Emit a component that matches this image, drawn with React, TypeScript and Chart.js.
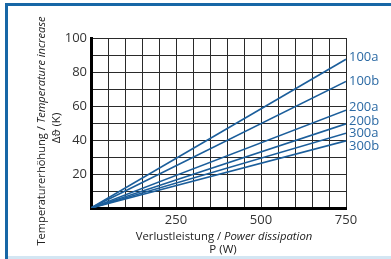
import React, { useEffect, useRef } from "react";
import { Chart, registerables } from "chart.js";

Chart.register(...registerables);

const seriesNames = ["100a", "100b", "200a", "200b", "300a", "300b"];
const powerPoints = [0, 750];
const tempAt750 = [87.5, 74.5, 57.5, 49.5, 44, 39.5];
const xTickLabels = [250, 500, 750];
const yTickLabels = [20, 40, 60, 80, 100];

const LINE = "#1b5e9b";
const LABEL = "#2c6aa4";
const FONT = "'Open Sans', 'DejaVu Sans', sans-serif";

const labelNudge = [-2, 0, -3, -3, 0, 5];

const annotations = {
  id: "annotations",
  afterDraw(chart: any) {
    const { ctx, scales } = chart;
    const xs = scales.x;
    const ys = scales.y;
    ctx.save();
    ctx.fillStyle = LABEL;
    ctx.font = `13px ${FONT}`;
    ctx.textBaseline = "middle";
    ctx.textAlign = "left";
    seriesNames.forEach((n, i) => {
      const x = xs.getPixelForValue(750) + 3;
      const y = ys.getPixelForValue(tempAt750[i]) + labelNudge[i];
      ctx.fillText(n, x, y);
    });

    const drawMixed = (parts: [string, boolean][], cx: number, cy: number, size: number) => {
      let total = 0;
      const widths = parts.map(([t, it]) => {
        ctx.font = `${it ? "italic " : ""}${size}px ${FONT}`;
        const w = ctx.measureText(t).width;
        total += w;
        return w;
      });
      let x = cx - total / 2;
      parts.forEach(([t, it], i) => {
        ctx.font = `${it ? "italic " : ""}${size}px ${FONT}`;
        ctx.fillText(t, x, cy);
        x += widths[i];
      });
    };

    ctx.fillStyle = "#222";
    ctx.textAlign = "left";
    ctx.textBaseline = "middle";
    drawMixed([["Verlustleistung / ", false], ["Power dissipation", true]], 224, 237, 11.3);
    drawMixed([["P (W)", false]], 223, 250, 11.5);
    ctx.save();
    ctx.translate(42, 131);
    ctx.rotate(-Math.PI / 2);
    drawMixed([["Temperaturerhöhung / ", false], ["Temperature increase", true]], 0, 0, 11.1);
    ctx.restore();
    ctx.save();
    ctx.translate(57, 128);
    ctx.rotate(-Math.PI / 2);
    drawMixed([["Δϑ (K)", false]], 0, 0, 11.5);
    ctx.restore();
    ctx.restore();
  },
};

export default function App() {
  const ref = useRef<HTMLCanvasElement>(null);
  useEffect(() => {
    const canvas = ref.current!;
    const chart = new Chart(canvas, {
      type: "line",
      data: {
        datasets: seriesNames.map((name, i) => ({
          label: name,
          data: powerPoints.map((p) => ({ x: p, y: (tempAt750[i] * p) / 750 })),
          borderColor: LINE,
          borderWidth: 1.6,
          pointRadius: 0,
          fill: false,
        })),
      },
      options: {
        animation: false,
        responsive: false,
        events: [],
        layout: { padding: { left: 0, right: 45, top: 38, bottom: 0 } },
        plugins: { legend: { display: false }, tooltip: { enabled: false } },
        scales: {
          x: {
            type: "linear",
            min: 0,
            max: 750,
            afterFit: (s: any) => {
              s.height = 51;
            },
            grid: { color: "#2a2a2a", lineWidth: 1, drawTicks: false },
            border: { color: "#000", width: 3 },
            ticks: {
              stepSize: 50,
              autoSkip: false,
              maxRotation: 0,
              padding: 4,
              color: "#333",
              font: { family: FONT, size: 13 },
              callback: (v: any) => (xTickLabels.includes(v) ? String(v) : ""),
            },
          },
          y: {
            min: 0,
            max: 100,
            afterFit: (s: any) => {
              s.width = 91;
            },
            grid: { color: "#2a2a2a", lineWidth: 1, drawTicks: false },
            border: { color: "#000", width: 3 },
            ticks: {
              stepSize: 10,
              autoSkip: false,
              padding: 4,
              color: "#333",
              font: { family: FONT, size: 13 },
              callback: (v: any) => (yTickLabels.includes(v) ? String(v) : ""),
            },
          },
        },
      },
      plugins: [annotations],
    } as any);
    return () => chart.destroy();
  }, []);
  return (
    <div style={{ position: "fixed", left: 0, top: 0, width: 391, height: 259, background: "#fff", overflow: "hidden" }}>
      <canvas ref={ref} width={391} height={259} style={{ position: "absolute", left: 0, top: 0 }} />
      <div style={{ position: "absolute", left: 5, top: 3, width: 386, height: 3, background: "#1767a6" }} />
      <div style={{ position: "absolute", left: 5, top: 3, width: 3, height: 256, background: "#1767a6" }} />
      <div style={{ position: "absolute", left: 8, top: 256, width: 383, height: 3, background: "#d3e6f3" }} />
    </div>
  );
}
